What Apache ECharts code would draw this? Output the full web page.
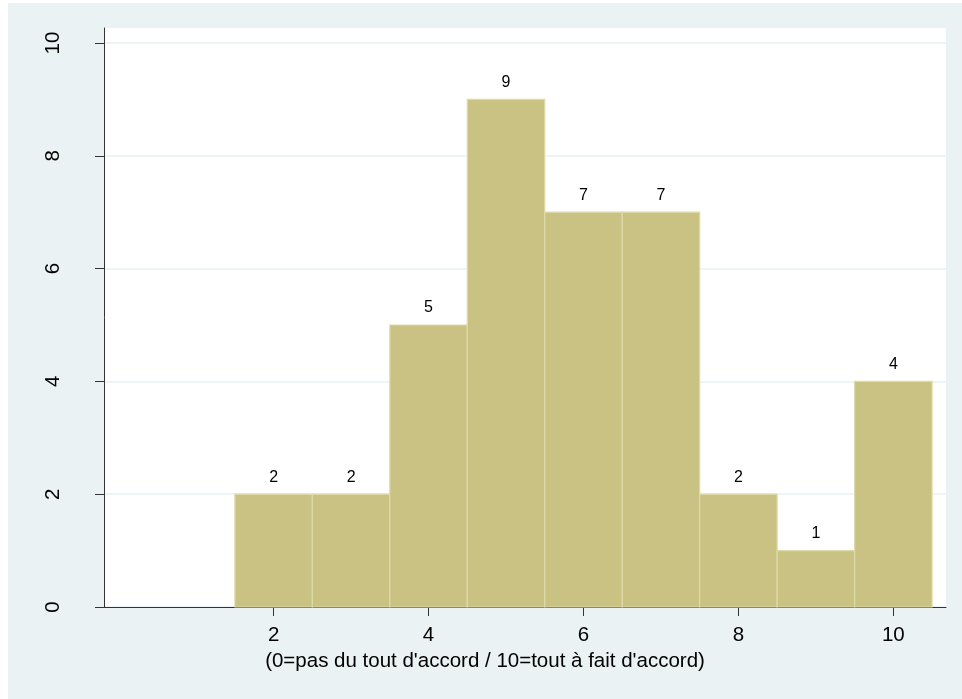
<!DOCTYPE html>
<html>
<head>
<meta charset="utf-8">
<script src="https://cdn.jsdelivr.net/npm/echarts@6/dist/echarts.min.js"></script>
<style>
html,body{margin:0;padding:0;background:#fff;width:962px;height:699px;overflow:hidden;}
#main{position:absolute;left:8px;top:3px;width:954px;height:696px;}
</style>
</head>
<body>
<div id="main"></div>
<script>
const binCenters = [2, 3, 4, 5, 6, 7, 8, 9, 10];
const frequencies = [2, 2, 5, 9, 7, 7, 2, 1, 4];
const xTickLabels = [2, 4, 6, 8, 10];
const yTickLabels = [0, 2, 4, 6, 8, 10];
const xTitle = "(0=pas du tout d'accord / 10=tout à fait d'accord)";

const data = binCenters.map((c, i) => [c, frequencies[i]]);
const chart = echarts.init(document.getElementById('main'));
const font = 'Liberation Sans, Arial, sans-serif';

chart.setOption({
  backgroundColor: '#EAF2F3',
  animation: false,
  grid: {left: 96, top: 25, right: 16, bottom: 92, show: true, backgroundColor: '#ffffff', borderWidth: 0},
  xAxis: {
    type: 'value', min: -0.19, max: 10.68,
    axisLine: {show: true, onZero: false, lineStyle: {color: '#333', width: 1}},
    axisTick: {show: true, length: 9, customValues: xTickLabels, lineStyle: {color: '#333'}},
    axisLabel: {customValues: xTickLabels, fontSize: 20.5, color: '#000', fontFamily: font, margin: 18},
    splitLine: {show: false},
    name: xTitle, nameLocation: 'middle', nameGap: 43,
    nameTextStyle: {fontSize: 20.5, color: '#000', fontFamily: font, padding: [0, 80, 0, 0]}
  },
  yAxis: {
    type: 'value', min: 0, max: 10.266,
    axisLine: {show: true, onZero: false, lineStyle: {color: '#333', width: 1}},
    axisTick: {show: true, length: 9, customValues: yTickLabels, lineStyle: {color: '#333'}},
    axisLabel: {customValues: yTickLabels, rotate: 90, fontSize: 20.5, color: '#000', fontFamily: font, margin: 40},
    splitLine: {show: true, lineStyle: {color: '#EAF2F3', width: 1.5}}
  },
  series: [{
    type: 'custom',
    data: data,
    renderItem: function (params, api) {
      const x = api.value(0), y = api.value(1);
      const p0 = api.coord([x - 0.5, 0]);
      const p1 = api.coord([x + 0.5, y]);
      return {
        type: 'group',
        children: [{
          type: 'rect',
          shape: {x: p0[0], y: p1[1], width: p1[0] - p0[0], height: p0[1] - p1[1]},
          style: {fill: '#C9C282', stroke: '#DEDAA9', lineWidth: 1.2}
        }, {
          type: 'text',
          style: {
            text: String(y), x: (p0[0] + p1[0]) / 2, y: p1[1] - 9,
            textAlign: 'center', textVerticalAlign: 'bottom',
            fontSize: 16, fill: '#000', fontFamily: font
          }
        }]
      };
    }
  }]
});
</script>
</body>
</html>
